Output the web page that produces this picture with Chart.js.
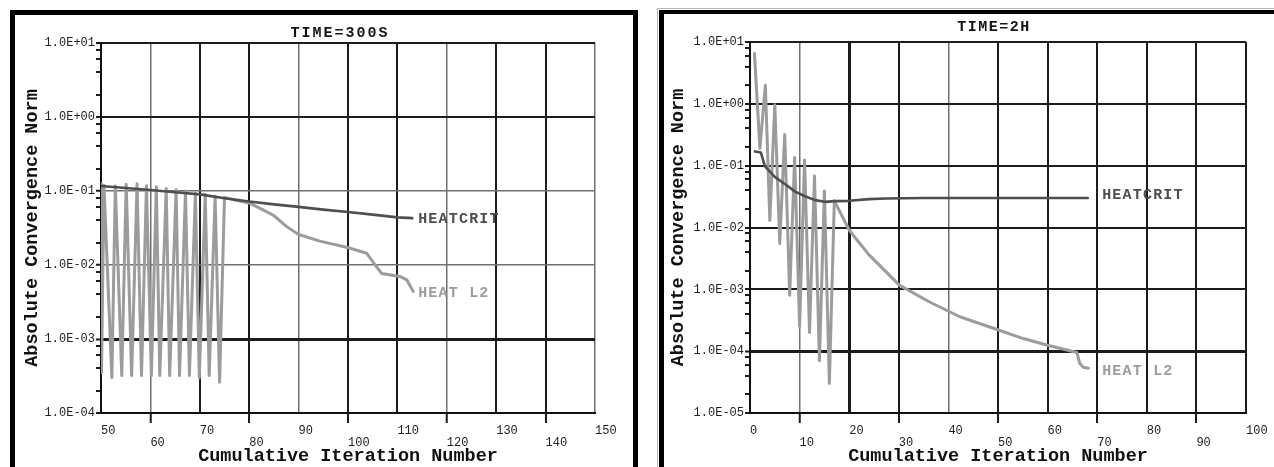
<!DOCTYPE html>
<html>
<head>
<meta charset="utf-8">
<title>Convergence norms</title>
<script src="https://cdn.jsdelivr.net/npm/chart.js@4.4.1/dist/chart.umd.min.js"></script>
<style>
  html, body { margin: 0; padding: 0; background: #fff; }
  body { width: 1274px; height: 467px; position: relative; overflow: hidden; }
  .frame { position: absolute; box-sizing: border-box; border: 0 solid #000; }
  #frame-left { left: 10px; top: 10px; width: 628px; height: 520px; border-width: 5px; }
  #frame-right-outer { left: 657px; top: 8px; width: 700px; height: 520px; border: 1px solid #b8b8b8; }
  #frame-right { left: 659px; top: 10px; width: 700px; height: 520px; border-width: 4px 0 0 5px; }
  canvas { position: absolute; }
  #c-left { left: 15px; top: 15px; }
  #c-right { left: 664px; top: 14px; }
</style>
</head>
<body>
<div class="frame" id="frame-left"></div>
<div class="frame" id="frame-right-outer"></div>
<div class="frame" id="frame-right"></div>
<canvas id="c-left" width="618" height="452"></canvas>
<canvas id="c-right" width="610" height="453"></canvas>
<script>
/* Two ANSYS-style convergence plots (TIME=300S and TIME=2H), log y axis. */

// ---- left panel: TIME=300S ----
const LEFT_X_RANGE = [50, 150];
const LEFT_Y_DECADES = [1e-4, 1e-3, 1e-2, 1e-1, 1e0, 1e1];
const LEFT_Y_LABELS = ['1.0E-04', '1.0E-03', '1.0E-02', '1.0E-01', '1.0E+00', '1.0E+01'];
const LEFT_CRIT_X = [50, 55, 60, 65, 70, 75, 80, 85, 90, 95, 100, 105, 110, 113];
const LEFT_CRIT_Y = [0.117, 0.110, 0.103, 0.096, 0.090, 0.080, 0.072, 0.066, 0.061, 0.056, 0.052, 0.048, 0.044, 0.043];
const LEFT_L2_X = [50.0, 50.1, 50.6, 52.2, 52.9, 54.2, 55.1, 56.2, 57.3, 58.2,
  59.2, 60.2, 61.2, 61.9, 63.2, 63.9, 65.2, 65.9, 67.1, 67.9,
  69.1, 69.9, 71.1, 71.9, 73.1, 74.0, 75.0, 77.1, 80.2, 82.5,
  84.9, 87.6, 89.9, 94.3, 100.1, 103.8, 105.5, 106.8, 110.5, 111.9, 113.2];
const LEFT_L2_Y = [0.125, 3.5e-4, 0.120, 3.0e-4, 0.117, 3.2e-4, 0.123, 3.2e-4, 0.125, 3.2e-4,
  0.118, 3.2e-4, 0.114, 3.2e-4, 0.108, 3.2e-4, 0.104, 3.2e-4, 0.100, 3.2e-4,
  0.093, 3.0e-4, 0.090, 3.2e-4, 0.085, 2.6e-4, 0.082, 0.0755, 0.068, 0.057,
  0.047, 0.033, 0.026, 0.021, 0.0171, 0.0144, 0.010, 0.0077, 0.0070, 0.0063, 0.0044];

// ---- right panel: TIME=2H ----
const RIGHT_X_RANGE = [0, 100];
const RIGHT_Y_DECADES = [1e-5, 1e-4, 1e-3, 1e-2, 1e-1, 1e0, 1e1];
const RIGHT_Y_LABELS = ['1.0E-05', '1.0E-04', '1.0E-03', '1.0E-02', '1.0E-01', '1.0E+00', '1.0E+01'];
const RIGHT_CRIT_X = [1.0, 2.2, 3.0, 5.0, 7.1, 9.1, 11.1, 13.1, 15.1, 17.1, 20.0, 24.0, 27.4, 35.0, 45.0, 55.0, 68.1];
const RIGHT_CRIT_Y = [0.17, 0.163, 0.098, 0.066, 0.050, 0.038, 0.032, 0.0277, 0.026, 0.0267, 0.027, 0.0288, 0.0295, 0.030, 0.030, 0.030, 0.030];
const RIGHT_L2_X = [0.9, 2.0, 3.1, 4.0, 5.0, 6.0, 7.0, 8.0, 9.0, 10.0,
  11.0, 12.0, 13.0, 14.0, 15.0, 16.0, 17.0, 20.0, 21.3, 24.0,
  30.1, 36.1, 42.3, 50.1, 55.1, 59.8, 65.9, 66.5, 67.2, 68.2];
const RIGHT_L2_Y = [6.5, 0.19, 2.0, 0.013, 0.97, 5.5e-3, 0.32, 8.0e-4, 0.135, 2.5e-4,
  0.123, 2.0e-4, 0.068, 7.0e-5, 0.039, 3.0e-5, 0.027, 9.1e-3, 6.7e-3, 3.6e-3,
  1.17e-3, 6.3e-4, 3.6e-4, 2.2e-4, 1.6e-4, 1.26e-4, 9.5e-5, 6.3e-5, 5.5e-5, 5.3e-5];

const MINOR_STEPS = [2, 4, 6, 8];   // minor tick marks inside each decade

// styling
const MONO = '"Liberation Mono", "Courier New", monospace';
const CRIT_COLOR = '#4e4e4e';
const L2_COLOR = '#9c9c9c';
const GRID_DARK = '#1c1c1c';
const GRID_LIGHT = '#707070';
const NONE = 'rgba(0,0,0,0)';

const pairs = (xs, ys) => xs.map((x, i) => ({ x, y: ys[i] }));
const near = (list, v) => list.some((d) => Math.abs(d - v) <= Math.abs(d) * 1e-6 + 1e-12);

function logTicks(decades) {
  const out = [];
  decades.forEach((d, i) => {
    out.push({ value: d, major: true });
    if (i < decades.length - 1) MINOR_STEPS.forEach((m) => out.push({ value: d * m, major: false }));
  });
  return out;
}

// panel title + curve names written next to the last point of each curve
const panelText = {
  id: 'panelText',
  afterDatasetsDraw(chart, args, opts) {
    const { ctx, chartArea, scales } = chart;
    ctx.save();
    ctx.textBaseline = 'middle';
    ctx.textAlign = 'center';
    ctx.fillStyle = '#151515';
    ctx.font = `bold 15px ${MONO}`;
    ctx.letterSpacing = opts.titleSpacing;
    ctx.fillText(opts.title, (chartArea.left + chartArea.right) / 2 + opts.titleDx, chartArea.top - opts.titleRise);

    ctx.textAlign = 'left';
    ctx.letterSpacing = '1.2px';
    chart.data.datasets.forEach((ds) => {
      const last = ds.data[ds.data.length - 1];
      ctx.fillStyle = ds.borderColor;
      ctx.fillText(ds.label, scales.x.getPixelForValue(opts.labelAt),
        scales.y.getPixelForValue(last.y) + (opts.labelDy[ds.label] || 0));
    });
    ctx.restore();
  },
};

function makeChart(id, p) {
  const axisTitleFont = { family: MONO, size: 18.5, weight: 'bold', lineHeight: 1.2 };
  return new Chart(document.getElementById(id), {
    type: 'line',
    data: {
      datasets: [
        { label: 'HEATCRIT', data: pairs(p.critX, p.critY), borderColor: CRIT_COLOR, borderWidth: 2.6 },
        { label: 'HEAT L2', data: pairs(p.l2X, p.l2Y), borderColor: L2_COLOR, borderWidth: 3 },
      ],
    },
    options: {
      responsive: false,
      animation: false,
      devicePixelRatio: 1,
      layout: { padding: { left: 0, top: 28, right: p.padRight, bottom: 0 } },
      elements: {
        point: { radius: 0 },
        line: { tension: 0, borderJoinStyle: 'round', borderCapStyle: 'round' },
      },
      plugins: {
        legend: { display: false },
        tooltip: { enabled: false },
        panelText: p.text,
      },
      scales: {
        x: {
          type: 'linear',
          min: p.xRange[0],
          max: p.xRange[1],
          afterFit: (s) => { s.height = 54; },
          ticks: {
            stepSize: 10,
            autoSkip: false,
            maxRotation: 0,
            align: 'start',
            padding: 2,
            color: '#222',
            font: { family: MONO, size: 12, lineHeight: 1.0 },
            callback: (v, i) => (i % 2 ? ['', String(v)] : String(v)),
          },
          grid: {
            color: (c) => (c.tick && near(p.xLight, c.tick.value) ? GRID_LIGHT : GRID_DARK),
            lineWidth: (c) => {
              const v = c.tick ? c.tick.value : NaN;
              if (near(p.xHeavy, v)) return 3;
              return near(p.xLight, v) ? 1.5 : 2;
            },
            tickLength: 10,
            tickWidth: 2,
            tickColor: (c) => (c.index % 2 ? GRID_DARK : NONE),
          },
          border: { color: '#111', width: 2 },
          title: {
            display: true,
            text: 'Cumulative Iteration Number',
            color: '#111',
            font: axisTitleFont,
            padding: { top: 0, bottom: 0 },
          },
        },
        y: {
          type: 'logarithmic',
          min: p.decades[0],
          max: p.decades[p.decades.length - 1],
          afterBuildTicks: (s) => { s.ticks = logTicks(p.decades); },
          afterFit: (s) => { s.width = 86; },
          ticks: {
            autoSkip: false,
            padding: 1,
            color: '#222',
            font: { family: MONO, size: 12 },
            callback: (v, i, ticks) => {
              if (!ticks[i].major) return '';
              const k = p.decades.findIndex((d) => near([d], v));
              return k >= 0 ? p.yLabels[k] : '';
            },
          },
          grid: {
            color: (c) => {
              if (!c.tick || !c.tick.major) return NONE;
              return near(p.yLight, c.tick.value) ? GRID_LIGHT : GRID_DARK;
            },
            lineWidth: (c) => {
              const v = c.tick ? c.tick.value : NaN;
              if (near(p.yHeavy, v)) return 3;
              return near(p.yLight, v) ? 1.5 : 2;
            },
            tickLength: 5,
            tickWidth: 2,
            tickColor: GRID_DARK,
          },
          border: { color: '#111', width: 2 },
          title: {
            display: true,
            text: 'Absolute Convergence Norm',
            color: '#111',
            font: axisTitleFont,
            padding: { top: p.yTitlePad, bottom: 0 },
          },
        },
      },
    },
    plugins: [panelText],
  });
}

makeChart('c-left', {
  xRange: LEFT_X_RANGE, decades: LEFT_Y_DECADES, yLabels: LEFT_Y_LABELS,
  critX: LEFT_CRIT_X, critY: LEFT_CRIT_Y, l2X: LEFT_L2_X, l2Y: LEFT_L2_Y,
  padRight: 38, yTitlePad: 6,
  xLight: [60, 90, 120, 150], xHeavy: [],
  yLight: [1e-1, 1e-2], yHeavy: [1e-3],
  text: { title: 'TIME=300S', titleDx: -8, titleRise: 10, titleSpacing: '2px',
          labelAt: 114.2, labelDy: { 'HEATCRIT': 1, 'HEAT L2': 2 } },
});

makeChart('c-right', {
  xRange: RIGHT_X_RANGE, decades: RIGHT_Y_DECADES, yLabels: RIGHT_Y_LABELS,
  critX: RIGHT_CRIT_X, critY: RIGHT_CRIT_Y, l2X: RIGHT_L2_X, l2Y: RIGHT_L2_Y,
  padRight: 28, yTitlePad: 3,
  xLight: [10, 40], xHeavy: [20],
  yLight: [], yHeavy: [1e-4],
  text: { title: 'TIME=2H', titleDx: -4, titleRise: 15, titleSpacing: '1.5px',
          labelAt: 71.0, labelDy: { 'HEATCRIT': -3, 'HEAT L2': 3 } },
});
</script>
</body>
</html>
